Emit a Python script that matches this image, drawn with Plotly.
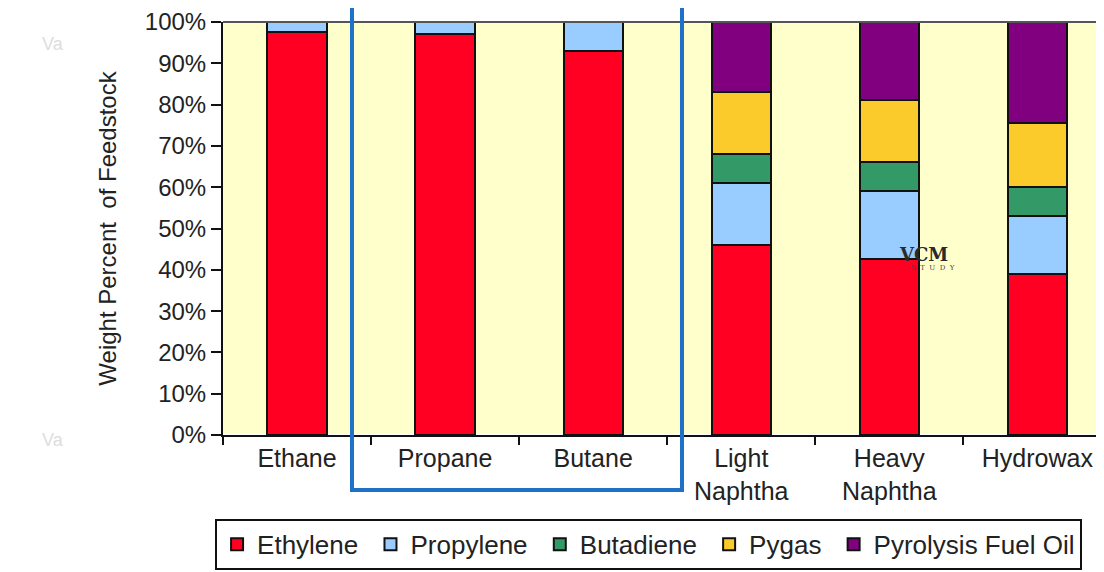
import plotly.graph_objects as go

# cracking yields by feedstock (weight % of feed)
feedstocks = ["Ethane", "Propane", "Butane", "Light<br>Naphtha", "Heavy<br>Naphtha", "Hydrowax"]
ethylene = [97.5, 97, 93, 46, 42.5, 39]
propylene = [2.5, 3, 7, 15, 16.5, 14]
butadiene = [0, 0, 0, 7, 7, 7]
pygas = [0, 0, 0, 15, 15, 15.5]
fuel_oil = [0, 0, 0, 17, 19, 24.5]

y_ticks = [0, 10, 20, 30, 40, 50, 60, 70, 80, 90, 100]

series = [
    ("Ethylene", ethylene, "#FF0022"),
    ("Propylene", propylene, "#99CCFF"),
    ("Butadiene", butadiene, "#339966"),
    ("Pygas", pygas, "#FBCB2C"),
    ("Pyrolysis Fuel Oil", fuel_oil, "#800080"),
]

FONT = "Liberation Sans, Arial, sans-serif"

fig = go.Figure()
for i, (name, vals, color) in enumerate(series):
    # a trailing nbsp widens the gap between legend entries a little
    label = name if i == len(series) - 1 else name + "&nbsp;"
    fig.add_trace(
        go.Bar(
            x=feedstocks,
            y=vals,
            name=label,
            marker=dict(color=color, line=dict(color="#111111", width=2)),
            width=0.4,
            hovertemplate=name + ": %{y}%<extra></extra>",
        )
    )

# page body has an 8px margin, so the figure is sized to fit inside it
fig.update_layout(
    barmode="stack",
    width=1096,
    height=564,
    paper_bgcolor="white",
    plot_bgcolor="#FFFFCC",
    margin=dict(l=215, r=0, t=14, b=137),
    font=dict(family=FONT, size=24, color="#222222"),
    showlegend=True,
    legend=dict(
        orientation="h",
        x=-0.009, y=-0.203,
        xanchor="left", yanchor="top",
        bordercolor="#111111", borderwidth=2,
        bgcolor="white",
        font=dict(size=26),
        traceorder="normal",
    ),
)

fig.update_xaxes(
    range=[-0.5, 5.45],
    showline=True, linecolor="#111111", linewidth=2,
    ticks="outside", tickson="boundaries", ticklen=8, tickwidth=2, tickcolor="#111111",
    showgrid=False,
    tickfont=dict(size=25),
)
fig.update_yaxes(
    range=[0, 100],
    tickvals=y_ticks,
    ticktext=[f"{v}%" for v in y_ticks],
    showline=True, linecolor="#111111", linewidth=2,
    ticks="outside", ticklen=10, tickwidth=2, tickcolor="#111111",
    showgrid=False,
    title=dict(text="Weight Percent  of Feedstock", font=dict(size=24), standoff=21),
)

# top border of the plot area
fig.add_shape(type="line", xref="paper", yref="paper", x0=0, x1=1, y0=1, y1=1,
              line=dict(color="#555555", width=2))

# highlight box around propane / butane
fig.add_shape(type="rect", xref="paper", yref="paper",
              x0=0.1464, x1=0.521, y0=-0.133, y1=1.07,
              line=dict(color="#1E70C8", width=4))

# faint watermarks
fig.add_annotation(text="<b>VCM</b>", xref="paper", yref="paper", x=0.825, y=0.438,
                   showarrow=False, font=dict(family="DejaVu Serif", size=18, color="#2A2A2A"))
fig.add_annotation(text="S  T  U  D  Y", xref="paper", yref="paper", x=0.833, y=0.404,
                   showarrow=False, font=dict(family="DejaVu Serif", size=7, color="#444444"))
for yy in [0.976, -0.041]:
    fig.add_annotation(text="Va", xref="paper", yref="paper", x=-0.208, y=yy,
                       showarrow=False, font=dict(size=18, color="#DDDDDD"))

fig.write_html("out.html")
